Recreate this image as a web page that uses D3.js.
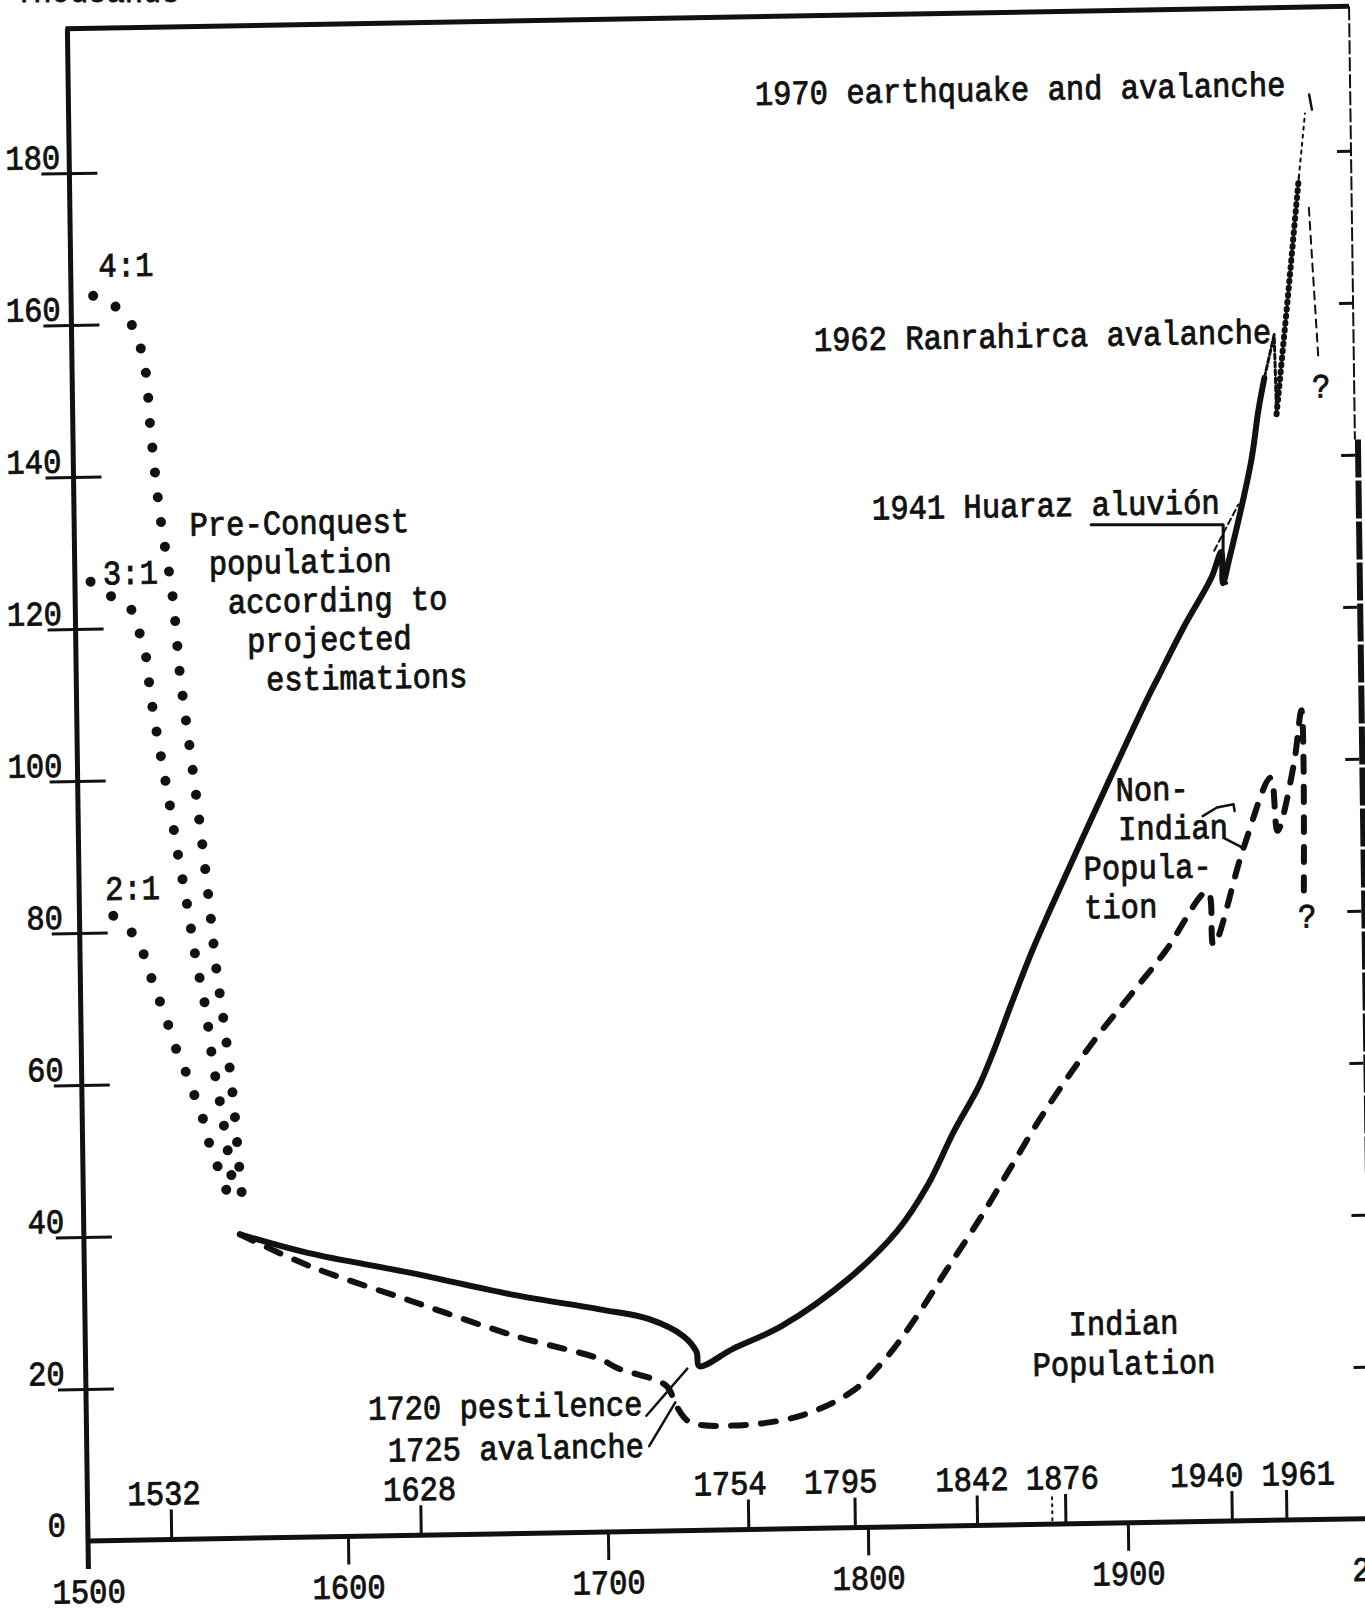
<!DOCTYPE html>
<html>
<head>
<meta charset="utf-8">
<script src="https://cdn.jsdelivr.net/npm/d3@7"></script>
<style>
  body { margin: 0; background: #fff; }
  svg { display: block; background: #fff; }
  text { font-family: "Liberation Mono", "DejaVu Sans Mono", monospace; font-size: 30.5px; fill: #111; stroke: #111; stroke-width: 0.8px; }
</style>
</head>
<body>
<svg id="chart" width="1365" height="1616"></svg>
<script>
// population of the Callejón de Huaylas, thousands
const census = [1532, 1628, 1754, 1795, 1842, 1876, 1940, 1961];
const centuries = [1500, 1600, 1700, 1800, 1900, 2000];
const yTicks = [20, 40, 60, 80, 100, 120, 140, 160, 180];

// pre-conquest projections (dotted), [year, thousands]
const ratio4to1 = [[1508.5,163.8],[1515.5,162.7],[1522,160.6],[1527.5,155.4],[1530,145.5],[1533,135],[1537.5,124],[1540,113.5],[1543.5,103.5],[1547,93.3],[1550,83.4],[1552.5,74.5],[1555,67.8],[1558,58.4],[1560,49.4],[1561.5,43]];
const ratio3to1 = [[1506,126.2],[1514,124.2],[1521,122.7],[1524,119.9],[1526.5,117.1],[1528.5,111.2],[1531.5,104.4],[1535,97.3],[1538,90.5],[1541.5,83.4],[1544.5,76.4],[1548,69.8],[1550.5,62.8],[1554,55.4],[1556.5,49.2],[1558,45.5]];
const ratio2to1 = [[1513,82.2],[1519,80.4],[1523.5,77.9],[1526.5,74.8],[1529.5,71.7],[1532.5,69],[1535,65.9],[1538.5,62.8],[1541.5,60.2],[1544.5,57.1],[1547.5,54.1],[1549,51.6],[1552,48.8],[1555,45.9],[1558,43.3]];

// total population (solid)
const totalPop = [[1560,40],[1586,37.4],[1626,34.5],[1665,31.4],[1698,29.3],[1717,27.9],[1730,25.6],[1735,23.5],[1736,21.6],[1749,23.8],[1768,26.7],[1794,32.8],[1813,39],[1825,45],[1835,51.8],[1845,57.8],[1851,62.5],[1858,68.6],[1866,75.3],[1873,80.6],[1890.5,93.3],[1912,108.5],[1916,111.1],[1926,117.6],[1937,124.1],[1941,127.5],[1941.5,123.4],[1944,126.5],[1953,139.4],[1956,146],[1958.5,150.3]];
// Indian population (dashed)
const indianPop = [[1560,40],[1586.4,35.7],[1625.8,30.8],[1665.3,26],[1697.6,22.8],[1704.7,21.5],[1723.2,19.1],[1727,16.4],[1731.9,14.3],[1748.4,13.7],[1774.2,14.8],[1795,18],[1808,22.3],[1820,27.7],[1832,33.9],[1844.4,40.2],[1856.6,46.9],[1868.8,53.6],[1881,59.6],[1892,64.6],[1903.7,69.4],[1917.4,75.1],[1934,82.9],[1936,75.8],[1948,88.5],[1958.8,97.7],[1961.2,90.7],[1967.8,99.4],[1971,106.5],[1971,82.8]];

// disaster details near the top
const avalanche1962 = [[1958.5,150.3],[1962.5,156],[1963,145.5]];
const recovery1962 = [[1963,145.5],[1968,161],[1972.8,176.6]];
const trend1941 = [[1938.3,127.7],[1947.8,133.7]];
const toward1970 = [[1972.8,176.6],[1975.5,185]];
const drop1970 = [[1976.5,172.6],[1979.4,152.5]];

const svg = d3.select("#chart");
const x = d3.scaleLinear().domain([1500, 2000]).range([88, 1388]);
const y = d3.scaleLinear().domain([0, 200]).range([1541, 21]);
const ink = "#111";

// the scanned sheet is tilted (and a little sheared), so draw in a transformed group
const px = x(1500), py = y(0);
const g = svg.append("g")
  .attr("transform", `translate(${px},${py}) rotate(-1) skewX(-0.22) translate(${-px},${-py})`);

// typewriter glyphs are taller than the mono font, stretch them a bit
const stretch = 1.12;
function typed(sel, tx, ty, str, anchor) {
  return sel.append("text")
    .attr("transform", `translate(${tx},${ty}) scale(1,${stretch})`)
    .attr("text-anchor", anchor || "start")
    .text(str);
}
// several typed lines in one text element; offsets are in page pixels
function typedBlock(sel, tx, ty, lines, anchor) {
  const t = sel.append("text")
    .attr("transform", `translate(${tx},${ty}) scale(1,${stretch})`)
    .attr("text-anchor", anchor || "start");
  lines.forEach(([str, ox, oy]) => t.append("tspan").attr("x", ox).attr("y", oy / stretch).text(str));
  return t;
}

function seg(sel, pts, w, dash) {
  return sel.append("path")
    .attr("d", d3.line().x(d => x(d[0])).y(d => y(d[1]))(pts))
    .attr("fill", "none").attr("stroke", ink)
    .attr("stroke-width", w).attr("stroke-linecap", "round").attr("stroke-linejoin", "round")
    .attr("stroke-dasharray", dash || null);
}

// frame
g.append("line").attr("x1", x(1500)).attr("x2", x(2006)).attr("y1", y(0)).attr("y2", y(0))
  .attr("stroke", ink).attr("stroke-width", 5);
g.append("line").attr("x1", x(1500)).attr("x2", x(1500)).attr("y1", y(199)).attr("y2", y(0) + 28)
  .attr("stroke", ink).attr("stroke-width", 5);
g.append("line").attr("x1", x(1500) - 2).attr("x2", x(1993)).attr("y1", y(199)).attr("y2", y(199))
  .attr("stroke", ink).attr("stroke-width", 5);
g.append("line").attr("x1", x(1993)).attr("x2", x(1993)).attr("y1", y(199)).attr("y2", y(142))
  .attr("stroke", ink).attr("stroke-width", 2).attr("stroke-dasharray", "14 3");
g.append("line").attr("x1", x(1993) + 3).attr("x2", x(1993) + 3).attr("y1", y(142)).attr("y2", y(-14))
  .attr("stroke", ink).attr("stroke-width", 6).attr("stroke-dasharray", "38 3");

// left axis ticks cross the axis line; labels sit in a typed column
const ya = g.append("g").attr("transform", `translate(${x(1500)},0)`)
  .call(d3.axisLeft(y).tickValues(yTicks).tickSize(28).tickSizeOuter(0));
ya.select(".domain").remove();
ya.selectAll(".tick text").remove();
ya.selectAll(".tick line").attr("x1", 28).attr("stroke", ink).attr("stroke-width", 3);
ya.selectAll(".tick").each(function(d) { typed(d3.select(this), -9 - (180 - d) * 0.075, -5, d, "end"); });
typed(g, x(1500) - 22, y(0) - 5, "0", "end");

// right frame ticks
const yr = g.append("g").attr("transform", `translate(${x(1993)},0)`)
  .call(d3.axisLeft(y).tickValues(yTicks).tickSize(14).tickFormat(""));
yr.select(".domain").remove();
yr.selectAll(".tick line").attr("stroke", ink).attr("stroke-width", 3);

// centuries below the axis
const xa = g.append("g").attr("transform", `translate(0,${y(0)})`)
  .call(d3.axisBottom(x).tickValues(centuries).tickSize(28).tickSizeOuter(0));
xa.select(".domain").remove();
xa.selectAll(".tick text").remove();
xa.selectAll(".tick line").attr("stroke", ink).attr("stroke-width", 3);
xa.selectAll(".tick").each(function(d) { typed(d3.select(this), 0, 62, d, "middle"); });

// census years above the axis (typed labels sit a little off their ticks)
const censusShift = { 1532: -7, 1628: -1, 1754: -18, 1795: -14, 1842: -5, 1876: -3, 1940: -25, 1961: 12 };
const ca = g.append("g").attr("transform", `translate(0,${y(0)})`)
  .call(d3.axisTop(x).tickValues(census).tickSize(30).tickSizeOuter(0));
ca.select(".domain").remove();
ca.selectAll(".tick text").remove();
ca.selectAll(".tick line").attr("stroke", ink).attr("stroke-width", 3);
ca.selectAll(".tick").each(function(d) { typed(d3.select(this), censusShift[d], -35, d, "middle"); });
// faint dotted mark just left of 1876
seg(g, [[1871, 0.5], [1871, 4]], 2, "2 5");

const smooth = d3.line().x(d => x(d[0])).y(d => y(d[1])).curve(d3.curveCatmullRom.alpha(0.5));

// dotted pre-conquest estimates
[ratio4to1, ratio3to1, ratio2to1].forEach(s => {
  g.append("path").attr("d", smooth(s)).attr("fill", "none").attr("stroke", ink)
    .attr("stroke-width", 10).attr("stroke-linecap", "round").attr("stroke-dasharray", "0 25");
});

// population lines
g.append("path").attr("d", smooth(totalPop)).attr("fill", "none").attr("stroke", ink)
  .attr("stroke-width", 6).attr("stroke-linejoin", "round").attr("stroke-linecap", "round");
g.append("path").attr("d", smooth(indianPop)).attr("fill", "none").attr("stroke", ink)
  .attr("stroke-width", 6).attr("stroke-linecap", "round").attr("stroke-dasharray", "15 15");

seg(g, avalanche1962, 3, "5 3");
seg(g, recovery1962, 2);
seg(g, recovery1962, 6, "1 6");
seg(g, trend1941, 2, "6 4");
seg(g, toward1970, 2, "3 5");
seg(g, drop1970, 2, "8 6");

// labels
typed(g, x(1510.7), y(166.3), "4:1");
typed(g, x(1510.8), y(125.8), "3:1");
typed(g, x(1510), y(84.3), "2:1");

typedBlock(g, x(1544.4), y(132),
  ["Pre-Conquest", "population", "according to", "projected", "estimations"].map((t, i) => [t, i * 18.6, i * 39]));

typed(g, x(1764), y(187.4), "1970 earthquake and avalanche");
seg(g, [[1977.2,187.5],[1978.2,185.5]], 2.5);
typed(g, x(1785.4), y(154.9), "1962 Ranrahirca avalanche");
typed(g, x(1806.9), y(132.6), "1941 Huaraz aluvión");
seg(g, [[1891.1,131.4],[1941.9,131.1],[1941.5,123.4],[1943,123.4]], 3);

typedBlock(g, x(1899.1), y(95), [["Non-", 0, 0], ["Indian", 2, 39], ["Popula-", -33, 78], ["tion", -33, 117]]);
seg(g, [[1940.4,89.9],[1948,88.5]], 2.5);
seg(g, [[1932.5,92.8],[1938,93.9],[1944.4,94.3],[1944.8,93.4]], 2.5);

typedBlock(g, x(1878.2) + 55, y(24.8), [["Indian", 0, 0], ["Population", 0, 40]], "middle");

typedBlock(g, x(1608.4), y(14.9) - 3, [["1720 pestilence", 0, 0], ["1725 avalanche", 19.2, 42]]);
seg(g, [[1715.4,15.2],[1731.4,21.3]], 2.5);
seg(g, [[1716.3,11.2],[1726.6,16.9]], 2.5);

typed(g, x(1980.3), y(147.6), "?", "middle");
typed(g, x(1972.2), y(77.9), "?", "middle");

// cut-off unit caption at the very top of the scan
typed(svg, 15, 2, "Thousands");
</script>
</body>
</html>
